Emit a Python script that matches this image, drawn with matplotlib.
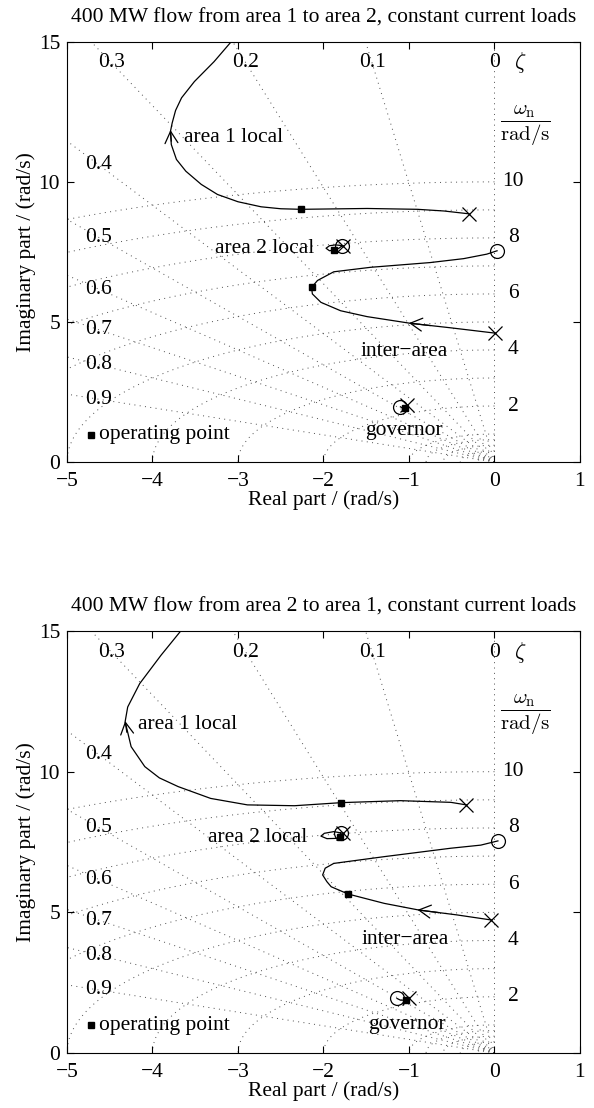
import numpy as np
import matplotlib
matplotlib.use('Agg')
import matplotlib.pyplot as plt

plt.rcParams['font.family'] = ['Liberation Serif', 'DejaVu Serif']
plt.rcParams['mathtext.fontset'] = 'cm'
plt.rcParams['font.size'] = 15.5

# grid values
zeta_values = [0.0, 0.1, 0.2, 0.3, 0.4, 0.5, 0.6, 0.7, 0.8, 0.9]
wn_arcs = [0.2, 0.4, 0.6, 0.8, 1, 2, 3, 4, 5, 6, 7, 8, 9, 10]
wn_labels = [2, 4, 6, 8, 10]

titles = ['400 MW flow from area 1 to area 2, constant current loads',
          '400 MW flow from area 2 to area 1, constant current loads']

# --- case 1: flow from area 1 to area 2 ---
top_area1_x = [-0.30, -0.59, -0.90, -1.49, -2.26, -2.50, -2.73, -3.00, -3.24, -3.43, -3.61,
               -3.72, -3.78, -3.79, -3.77, -3.73, -3.66, -3.51, -3.28, -3.08]
top_area1_y = [8.86, 8.96, 9.02, 9.05, 9.02, 9.04, 9.11, 9.29, 9.55, 9.91, 10.38,
               10.80, 11.33, 11.80, 12.10, 12.55, 13.00, 13.58, 14.29, 15.0]
top_inter_x = [0.01, -0.51, -0.98, -1.49, -1.80, -2.03, -2.13, -2.14, -2.07, -1.88, -1.45,
               -0.75, -0.36, -0.09, 0.03]
top_inter_y = [4.60, 4.79, 4.95, 5.19, 5.40, 5.70, 6.00, 6.23, 6.48, 6.79, 6.95,
               7.12, 7.26, 7.42, 7.54]
top_area2_x = [-1.77, -1.86, -1.93, -1.97, -1.93, -1.88, -1.82, -1.78]
top_area2_y = [7.72, 7.75, 7.72, 7.63, 7.54, 7.57, 7.63, 7.72]
top_gov_x = [-1.10, -1.07, -1.05, -1.02]
top_gov_y = [1.97, 1.92, 1.93, 2.03]
top_ops_x = [-2.26, -2.14, -1.88, -1.05]
top_ops_y = [9.02, 6.23, 7.57, 1.93]
top_start_x = [-0.30, 0.01, -1.77, -1.02]   # crosses
top_start_y = [8.86, 4.60, 7.72, 2.03]
top_end_x = [0.03, -1.78, -1.10]            # circles
top_end_y = [7.54, 7.72, 1.97]

# --- case 2: flow from area 2 to area 1 ---
bot_area1_x = [-0.33, -0.51, -1.10, -1.79, -2.34, -2.89, -3.32, -3.70, -3.92, -4.09, -4.25,
               -4.32, -4.29, -4.15, -3.90, -3.67]
bot_area1_y = [8.82, 8.91, 8.97, 8.90, 8.79, 8.82, 9.05, 9.47, 9.78, 10.18, 10.89,
               11.78, 12.30, 13.13, 14.14, 15.0]
bot_inter_x = [-0.04, -0.44, -0.88, -1.29, -1.71, -1.91, -1.96, -2.01, -1.98, -1.88, -1.29,
               -0.51, -0.16, 0.04]
bot_inter_y = [4.73, 4.91, 5.08, 5.32, 5.65, 5.91, 6.09, 6.33, 6.57, 6.74, 6.98,
               7.28, 7.39, 7.54]
bot_area2_x = [-1.77, -1.88, -1.99, -2.03, -1.96, -1.84, -1.81, -1.80, -1.80]
bot_area2_y = [7.81, 7.87, 7.81, 7.71, 7.62, 7.63, 7.67, 7.75, 7.81]
bot_gov_x = [-1.14, -1.10, -1.03, -1.00]
bot_gov_y = [1.94, 1.88, 1.88, 1.94]
bot_ops_x = [-1.79, -1.71, -1.81, -1.03]
bot_ops_y = [8.90, 5.65, 7.67, 1.88]
bot_start_x = [-0.33, -0.04, -1.77, -1.00]
bot_start_y = [8.82, 4.73, 7.81, 1.94]
bot_end_x = [0.04, -1.80, -1.14]
bot_end_y = [7.54, 7.81, 1.94]

# label positions (x, y) per case: area 1 local, area 2 local, inter-area, governor
top_text = [(-3.63, 11.60), (-3.27, 7.62), (-1.06, 3.95), (-1.06, 1.14)]
bot_text = [(-4.17, 11.66), (-3.35, 7.67), (-1.04, 4.02), (-1.02, 1.00)]
# arrows: (tail, tip) for area 1 local and inter-area
top_arrows = [((-3.78, 11.45), (-3.79, 11.85)), ((-0.75, 4.87), (-1.00, 4.96))]
bot_arrows = [((-4.30, 11.40), (-4.32, 11.80)), ((-0.65, 4.99), (-0.90, 5.09))]

DOT = (0, (1, 4.5))


def sgrid(ax):
    for z in zeta_values:
        ax.plot([0, -z * 30], [0, np.sqrt(1 - z ** 2) * 30], ls=DOT, color='0.3', lw=0.7, zorder=1)
    th = np.linspace(np.pi / 2, np.pi, 300)
    for w in wn_arcs:
        ax.plot(w * np.cos(th), w * np.sin(th), ls=DOT, color='0.3', lw=0.7, zorder=1)
    # damping labels
    for z in zeta_values:
        if z <= 0.3:
            y = 14.25
            x = -z / np.sqrt(1 - z ** 2) * y
        else:
            x = -4.63
            y = -x * np.sqrt(1 - z ** 2) / z
        ax.text(x, y, f'{z:g}', ha='center', va='center')
    ax.text(0.30, 14.25, r'$\zeta$', ha='center', va='center', fontsize=16)
    for w in wn_labels:
        ax.text(0.22, w, f'{w}', ha='center', va='center')
    ax.text(0.36, 12.0, r'$\dfrac{\omega_\mathrm{n}}{\mathrm{rad/s}}$', ha='center', va='center',
            fontsize=15)


def panel(ax, title, loci, ops, starts, ends, texts, arrows):
    sgrid(ax)
    for lx, ly in loci:
        ax.plot(lx, ly, color='k', lw=0.9, zorder=3)
    ax.plot(ops[0], ops[1], 's', color='k', ms=5, zorder=4)
    ax.plot(starts[0], starts[1], 'x', color='k', ms=10, mew=0.9, zorder=4)
    ax.plot(ends[0], ends[1], 'o', mfc='none', mec='k', ms=10, mew=0.9, zorder=4)
    for tail, tip in arrows:
        ax.annotate('', xy=tip, xytext=tail,
                    arrowprops=dict(arrowstyle='->,head_length=0.55,head_width=0.3',
                                    color='k', lw=0.9, shrinkA=0, shrinkB=0))
    ax.text(texts[0][0], texts[0][1], 'area 1 local', ha='left', va='center')
    ax.text(texts[1][0], texts[1][1], 'area 2 local', ha='left', va='center')
    ax.text(texts[2][0], texts[2][1], 'inter\u2212area', ha='center', va='center')
    ax.text(texts[3][0], texts[3][1], 'governor', ha='center', va='center')
    ax.plot([-4.72], [0.98], 's', color='k', ms=5)
    ax.text(-4.62, 0.98, 'operating point', ha='left', va='center')

    ax.set_xlim(-5, 1)
    ax.set_ylim(0, 15)
    ax.set_xticks(range(-5, 2))
    ax.set_yticks([0, 5, 10, 15])
    ax.tick_params(direction='in', top=True, right=True, length=5)
    ax.tick_params(axis='x', pad=7)
    ax.tick_params(axis='y', pad=5)
    ax.set_xlabel('Real part / (rad/s)', labelpad=0)
    ax.set_ylabel('Imaginary part / (rad/s)', labelpad=2)
    ax.set_title(title, fontsize=15.5, pad=14)


fig = plt.figure(figsize=(5.94, 11.08), dpi=100)
ax1 = fig.add_axes([0.1128, 0.5830, 0.8636, 0.3793])
ax2 = fig.add_axes([0.1128, 0.0496, 0.8636, 0.3809])

panel(ax1, titles[0],
      [(top_area1_x, top_area1_y), (top_inter_x, top_inter_y), (top_area2_x, top_area2_y),
       (top_gov_x, top_gov_y)],
      (top_ops_x, top_ops_y), (top_start_x, top_start_y), (top_end_x, top_end_y),
      top_text, top_arrows)
panel(ax2, titles[1],
      [(bot_area1_x, bot_area1_y), (bot_inter_x, bot_inter_y), (bot_area2_x, bot_area2_y),
       (bot_gov_x, bot_gov_y)],
      (bot_ops_x, bot_ops_y), (bot_start_x, bot_start_y), (bot_end_x, bot_end_y),
      bot_text, bot_arrows)

fig.savefig('out.png', dpi=100)
